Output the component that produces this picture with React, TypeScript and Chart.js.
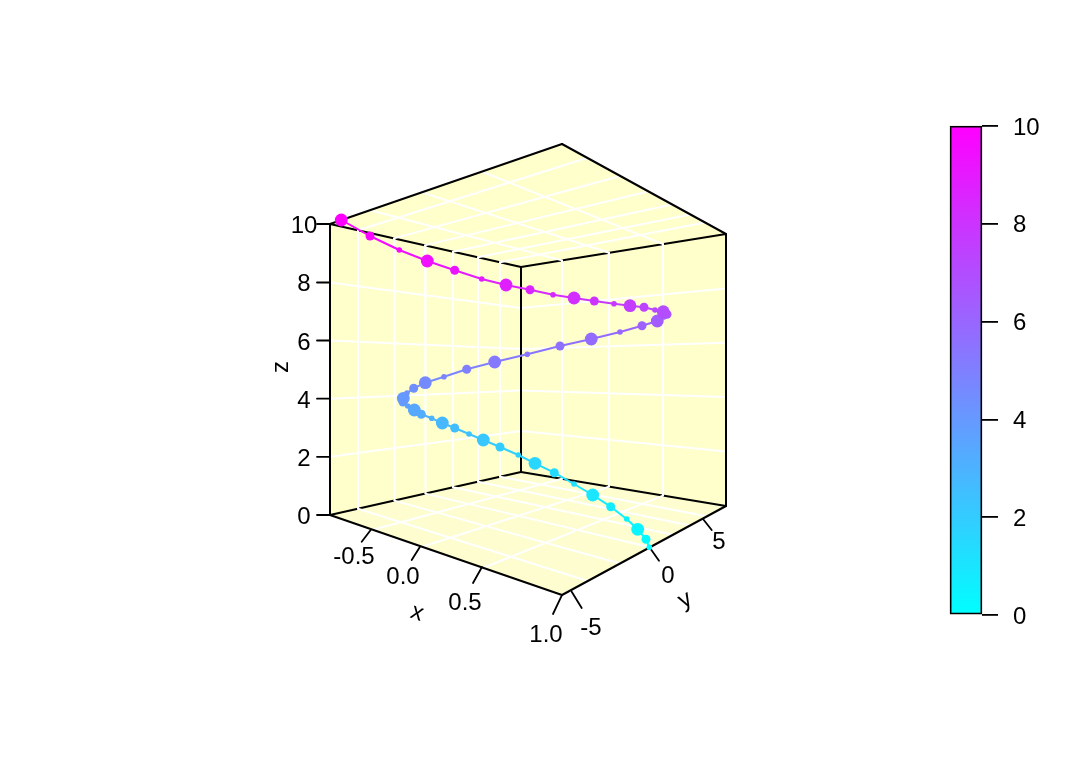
import React, { useEffect, useRef } from "react";
import { Chart, registerables } from "chart.js";

Chart.register(...registerables);

// Curve: z value of each marker, its position on the projected drawing plane, and its size class
const zValues = [
  0, 0.2, 0.4, 0.6, 0.8, 1, 1.2, 1.4, 1.6, 1.8, 2, 2.2, 2.4, 2.6, 2.8, 3, 3.2, 3.4, 3.6, 3.8, 4, 4.2, 4.4, 4.6, 4.8, 5,
  5.2, 5.4, 5.6, 5.8, 6, 6.2, 6.4, 6.6, 6.8, 7, 7.2, 7.4, 7.6, 7.8, 8, 8.2, 8.4, 8.6, 8.8, 9, 9.2, 9.4, 9.6, 9.8, 10,
];
const planeX = [
  649.3, 646, 637.7, 626.7, 610.7, 592.7, 574, 554.3, 535, 518.3, 500, 483.3, 469, 454.7, 442.3, 431.7, 421.3, 414.3,
  407.7, 403, 403.3, 407, 413.7, 425.3, 444, 466.7, 494.7, 527.3, 560, 591.3, 620, 642, 657.3, 664, 667, 663.3, 655,
  644, 630, 614, 594.3, 574, 553, 530, 506, 481.7, 454.7, 427.3, 399.3, 370, 341.3,
];
const planeY = [
  547.3, 539.3, 529.3, 519, 506.7, 495, 484, 472.7, 463.3, 455, 447, 440, 434, 428, 423, 418.3, 414.3, 410, 406, 402,
  398.3, 393, 388.3, 382.7, 376.7, 369.3, 362, 354.3, 346, 339, 332, 325.7, 321, 317, 314.3, 311.7, 310, 307.3, 305.7,
  303.7, 301, 298, 294.7, 289.7, 285, 279, 270.3, 261, 250, 236, 220,
];
const sizeClass = [
  0, 1, 2, 0, 1, 2, 0, 1, 2, 0, 1, 2, 0, 1, 2, 0, 1, 2, 0, 1, 2, 0, 1, 2, 0, 1, 2, 0, 1, 2, 0, 1, 2, 0, 1, 2, 0, 1, 2,
  0, 1, 2, 0, 1, 2, 0, 1, 2, 0, 1, 2,
];

// Box corners on the drawing plane
const cLeftTop = [330, 224];
const cLeftBottom = [330, 515];
const cBackTop = [521, 267];
const cBackBottom = [521, 472];
const cRightTop = [726, 234];
const cRightBottom = [726, 506];
const cFrontBottom = [562, 595];
const cApexTop = [562, 144];

// Grid segments [x1, y1, x2, y2]
const leftWallGrid = [
  [358, 230.3, 358, 508.7], [394, 238.4, 394.5, 500.6], [425, 245.4, 425.5, 493.6],
  [453, 251.7, 453, 487.3], [478, 257.3, 478, 481.7], [500, 262.3, 500, 476.7],
  [330, 282.5, 521, 308], [330, 340.5, 521, 349], [330, 398.7, 521, 390.5], [330, 456.8, 521, 431],
];
const rightWallGrid = [
  [562, 260.4, 562, 478.8], [609, 252.8, 609, 486.6], [663, 244.1, 663, 495.6],
  [521, 308, 726, 288.4], [521, 349, 726, 342.8], [521, 390.5, 726, 397], [521, 431, 726, 451.6],
];
const floorGrid = [
  [372, 530, 562, 478.8], [421.5, 547, 609, 486.6], [483, 568, 663, 495.6],
  [358, 508.7, 588, 581], [394.5, 500.6, 620, 563.5], [425.5, 493.6, 650, 547.2],
  [453, 487.3, 673, 534.7], [478, 481.7, 690, 525.5], [500, 476.7, 707, 516.3],
];
const ceilingGrid = [
  [370, 210.2, 562, 260.4], [422, 192.4, 609, 252.8], [482, 171.6, 663, 244.1],
  [358, 230.3, 587, 158], [394, 238.4, 620, 176], [425, 245.4, 648, 191.5],
  [453, 251.7, 672, 204.5], [478, 257.3, 690, 214.5], [500, 262.3, 705, 222.5],
];

// Axis ticks: label, tick start and end on the plane, label centre
const zTickLabels = ["0", "2", "4", "6", "8", "10"];
const zTickY = [515, 456.8, 398.7, 340.5, 282.5, 224];
const zLabelY = [517, 459, 401, 343, 284, 226];
const xTickLabels = ["-0.5", "0.0", "0.5", "1.0"];
const xTickSegments = [[370.7, 530, 361.7, 541.7], [420, 546.7, 411.7, 560], [482, 567, 473, 583], [561.7, 595.7, 553, 614]];
const xLabelPos = [[354, 557], [403, 577], [465, 603], [546, 635]];
const yTickLabels = ["-5", "0", "5"];
const yTickSegments = [[571.7, 591.7, 581.7, 608], [650, 548, 659, 560.7], [703, 519, 711.7, 530]];
const yLabelPos = [[591, 628], [668, 576], [719, 542]];

// Colour bar
const colorbarRange = [0, 10];
const colorbarStep = 2;

const RAMP_LOW = [0, 255, 255];
const RAMP_HIGH = [255, 0, 255];
const RADII = [2.8, 4.5, 6.4];
const FONT = "24px 'Liberation Sans', Arial, sans-serif";

function rampColor(z: number) {
  const t = z / 10;
  const c = RAMP_LOW.map((a, i) => Math.round(a + (RAMP_HIGH[i] - a) * t));
  return `rgb(${c[0]},${c[1]},${c[2]})`;
}

const pt = (p: number[]) => ({ x: p[0], y: p[1] });

function polygon(corners: number[][], color: string) {
  return {
    type: "line",
    data: [...corners, corners[0]].map(pt),
    fill: "shape",
    backgroundColor: color,
    borderWidth: 0,
    borderColor: "transparent",
    pointRadius: 0,
    tension: 0,
  };
}

function polyline(points: { x: number; y: number }[], color: string, width: number) {
  return {
    type: "line",
    data: points,
    borderColor: color,
    borderWidth: width,
    pointRadius: 0,
    fill: false,
    tension: 0,
    borderCapStyle: "round",
  };
}

function segments(list: number[][], color: string, width: number) {
  return list.map((s) => polyline([{ x: s[0], y: s[1] }, { x: s[2], y: s[3] }], color, width));
}

const edge = (a: number[], b: number[]) => [a[0], a[1], b[0], b[1]];

const axisText = {
  id: "axisText",
  afterDatasetsDraw(chart: any) {
    const { ctx, scales } = chart;
    const put = (text: string, px: number, py: number, rot = 0) => {
      ctx.save();
      ctx.translate(scales.x.getPixelForValue(px), scales.y.getPixelForValue(py));
      ctx.rotate((rot * Math.PI) / 180);
      ctx.font = FONT;
      ctx.fillStyle = "#000";
      ctx.textAlign = "center";
      ctx.textBaseline = "middle";
      ctx.fillText(text, 0, 0);
      ctx.restore();
    };
    zTickLabels.forEach((t, i) => put(t, 304, zLabelY[i]));
    xTickLabels.forEach((t, i) => put(t, xLabelPos[i][0], xLabelPos[i][1]));
    yTickLabels.forEach((t, i) => put(t, yLabelPos[i][0], yLabelPos[i][1]));
    put("x", 417, 613, 19);
    put("y", 685, 600, -28.5);
    put("z", 281, 367, -90);
  },
};

export default function App() {
  const mainRef = useRef<HTMLCanvasElement>(null);
  const barRef = useRef<HTMLCanvasElement>(null);

  useEffect(() => {
    const curve = {
      type: "line",
      data: planeX.map((x, i) => ({ x, y: planeY[i] })),
      borderWidth: 2,
      tension: 0,
      fill: false,
      borderColor: rampColor(5),
      segment: { borderColor: (c: any) => rampColor(zValues[c.p0DataIndex]) },
      pointRadius: sizeClass.map((s) => RADII[s]),
      pointBorderWidth: 0,
      pointBackgroundColor: zValues.map(rampColor),
    };

    const backToFront: any[] = [
      polygon([cLeftBottom, cBackBottom, cRightBottom, cFrontBottom], "#FDFDCF"),
      polygon([cLeftTop, cApexTop, cRightTop, cBackTop], "#FFFFCC"),
      polygon([cLeftTop, cBackTop, cBackBottom, cLeftBottom], "#FFFFCC"),
      polygon([cBackTop, cRightTop, cRightBottom, cBackBottom], "#FFFFCC"),
      ...segments(
        [edge(cLeftTop, cBackTop), edge(cBackTop, cRightTop), edge(cLeftBottom, cBackBottom), edge(cBackBottom, cRightBottom)],
        "#000",
        2,
      ),
      ...segments([...leftWallGrid, ...rightWallGrid, ...floorGrid, ...ceilingGrid], "#FFFFFF", 2),
      ...segments(
        [
          edge(cLeftTop, cLeftBottom), edge(cBackTop, cBackBottom), edge(cRightTop, cRightBottom),
          edge(cLeftBottom, cFrontBottom), edge(cFrontBottom, cRightBottom),
          edge(cLeftTop, cApexTop), edge(cApexTop, cRightTop),
        ],
        "#000",
        2,
      ),
      ...segments(zTickY.map((y) => [317, y, 330, y]), "#000", 1.8),
      ...segments(xTickSegments, "#000", 1.8),
      ...segments(yTickSegments, "#000", 1.8),
      curve,
    ];
    const datasets = backToFront.map((d, i) => ({ ...d, order: backToFront.length - i }));

    const main = new Chart(mainRef.current!, {
      type: "scatter",
      data: { datasets },
      options: {
        animation: false,
        responsive: false,
        layout: { padding: 0, autoPadding: false },
        plugins: { legend: { display: false }, tooltip: { enabled: false } },
        scales: {
          x: { type: "linear", min: 0, max: 1080, display: false },
          y: { type: "linear", min: 0, max: 771, reverse: true, display: false },
        },
      },
      plugins: [axisText],
    } as any);

    const bar = new Chart(barRef.current!, {
      type: "bar",
      data: {
        labels: ["z"],
        datasets: [
          {
            data: [colorbarRange],
            barPercentage: 1,
            categoryPercentage: 1,
            borderColor: "#000",
            borderWidth: 1.8,
            borderSkipped: false,
            clip: false,
            backgroundColor: (c: any) => {
              const { ctx, chartArea } = c.chart;
              if (!chartArea) return "#000";
              const g = ctx.createLinearGradient(0, chartArea.bottom, 0, chartArea.top);
              g.addColorStop(0, rampColor(colorbarRange[0]));
              g.addColorStop(1, rampColor(colorbarRange[1]));
              return g;
            },
          },
        ],
      },
      options: {
        animation: false,
        responsive: false,
        layout: { padding: { left: 50, top: 26, bottom: 25, right: 0 }, autoPadding: false },
        plugins: { legend: { display: false }, tooltip: { enabled: false } },
        scales: {
          x: { display: false },
          y: {
            position: "right",
            min: colorbarRange[0],
            max: colorbarRange[1],
            afterFit: (s: any) => {
              s.width = 78;
              s.paddingTop = 0;
              s.paddingBottom = 0;
            },
            border: { display: false },
            grid: { drawOnChartArea: false, drawTicks: true, tickLength: 16, color: "#000", lineWidth: 1.8 },
            ticks: {
              stepSize: colorbarStep,
              padding: 15,
              labelOffset: 2,
              color: "#000",
              font: { family: "'Liberation Sans', Arial, sans-serif", size: 24 },
            },
          },
        },
      },
    } as any);

    return () => {
      main.destroy();
      bar.destroy();
    };
  }, []);

  return (
    <div style={{ position: "absolute", left: 0, top: 0, width: 1080, height: 771, background: "#fff" }}>
      <canvas ref={mainRef} width={1080} height={771} style={{ position: "absolute", left: 0, top: 0 }} />
      <canvas ref={barRef} width={160} height={540} style={{ position: "absolute", left: 900, top: 100 }} />
    </div>
  );
}
